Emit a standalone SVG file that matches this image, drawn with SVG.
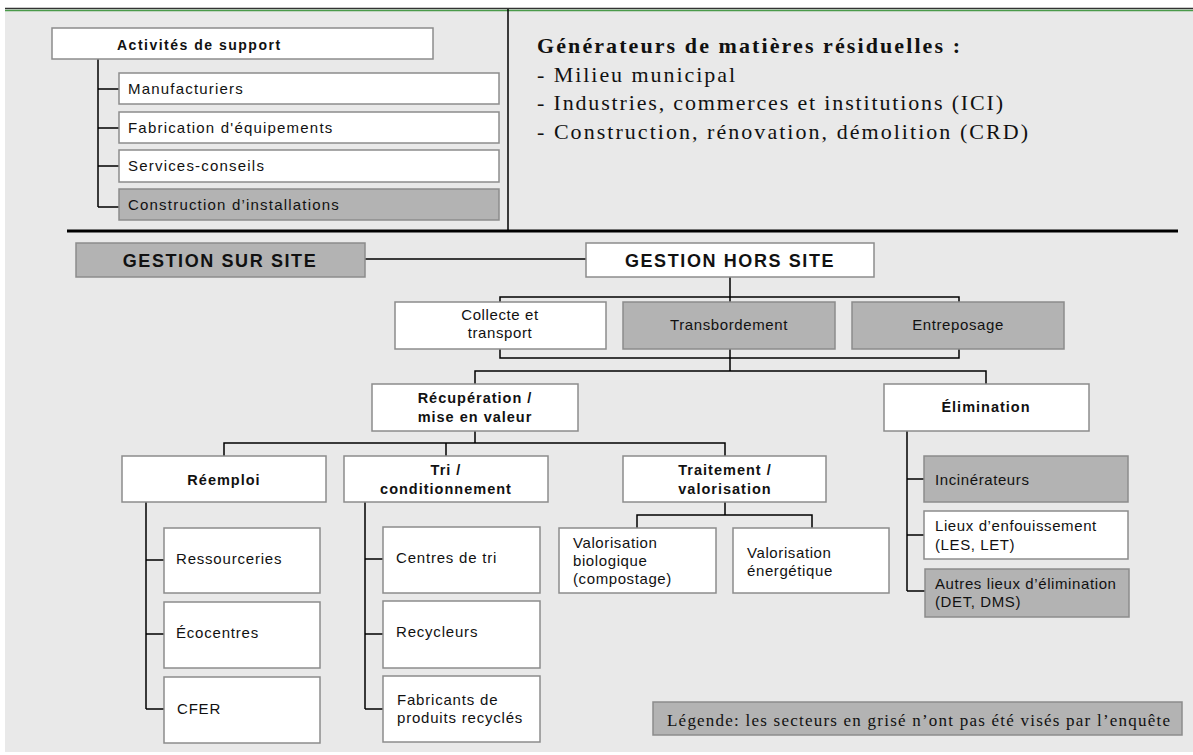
<svg xmlns="http://www.w3.org/2000/svg" width="1193" height="755" viewBox="0 0 1193 755">
<style>
.box{fill:#fff;stroke:#8c8c8c;stroke-width:1.5}
.gray{fill:#b3b3b3}
.b{font-family:"Liberation Sans",Arial,sans-serif;font-weight:bold;font-size:14.5px;letter-spacing:1px;fill:#111}
.bc{text-anchor:middle}
.r{font-family:"Liberation Sans",Arial,sans-serif;font-size:15px;letter-spacing:0.8px;fill:#111}
.m{letter-spacing:0.6px}
.big{font-size:18px;letter-spacing:1.6px}
.s{font-family:"Liberation Serif","Times New Roman",serif;font-size:22px;fill:#111}
.conn{fill:none;stroke:#000;stroke-width:1.5}
</style>
<rect x="0" y="0" width="1193" height="755" fill="#fff"/>
<rect x="5" y="10" width="1188" height="742" fill="#e9e9e9"/>
<line x1="5" y1="8.5" x2="1193" y2="8.5" stroke="#333" stroke-width="1.5"/>
<line x1="5" y1="10.5" x2="1193" y2="10.5" stroke="#4a9a4a" stroke-width="1.5"/>
<line x1="508" y1="9" x2="508" y2="231" stroke="#000" stroke-width="1.5"/>
<line x1="67" y1="231" x2="1178" y2="231" stroke="#000" stroke-width="3"/>

<g id="connectors" class="conn">
<path d="M98 59V207M98 89H119M98 128H119M98 166H119M98 207H119"/>
<path d="M365 259H586"/>
<path d="M730 277V302M500 302V297H959V302"/>
<path d="M500 349V358H959V349M730 349V371M475 384V371H986V384"/>
<path d="M475 431V443M224 456V443H725V456M446 443V456"/>
<path d="M725 502V515M637 528V515H812V528"/>
<path d="M146 502V709M146 560H164M146 634H164M146 709H164"/>
<path d="M365 502V709M365 559H383M365 634H383M365 709H383"/>
<path d="M907 431V591M907 479H924M907 535H924M907 591H925"/>
</g>

<g id="activites"><rect class="box" x="52" y="28" width="381" height="31"/><text class="b" x="117" y="50" style="font-size:14px;letter-spacing:1.5px">Activités de support</text></g>
<g id="manufacturiers"><rect class="box" x="119" y="73" width="380" height="31"/><text class="r" x="128" y="94" style="letter-spacing:1.2px">Manufacturiers</text></g>
<g id="fabrication"><rect class="box" x="119" y="112" width="380" height="31"/><text class="r" x="128" y="133" style="letter-spacing:1.2px">Fabrication d'équipements</text></g>
<g id="services"><rect class="box" x="119" y="150" width="380" height="32"/><text class="r" x="128" y="171" style="letter-spacing:1.2px">Services-conseils</text></g>
<g id="construction"><rect class="box gray" x="119" y="189" width="380" height="31"/><text class="r" x="128" y="210" style="letter-spacing:1.2px">Construction d’installations</text></g>

<g id="generateurs">
<text class="s" x="537" y="53" font-weight="bold" textLength="423" lengthAdjust="spacing">Générateurs de matières résiduelles :</text>
<text class="s" x="537" y="82" textLength="198" lengthAdjust="spacing">- Milieu municipal</text>
<text class="s" x="537" y="110" textLength="466" lengthAdjust="spacing">- Industries, commerces et institutions (ICI)</text>
<text class="s" x="537" y="139" textLength="491" lengthAdjust="spacing">- Construction, rénovation, démolition (CRD)</text>
</g>

<g id="sur-site"><rect class="box gray" x="76" y="243" width="289" height="34"/><text class="b bc big" x="220" y="267">GESTION SUR SITE</text></g>
<g id="hors-site"><rect class="box" x="586" y="243" width="288" height="34"/><text class="b bc big" x="730" y="267">GESTION HORS SITE</text></g>

<g id="collecte"><rect class="box" x="395" y="302" width="211" height="47"/><text class="r bc m" x="500" y="320">Collecte et</text><text class="r bc m" x="500" y="338">transport</text></g>
<g id="transbordement"><rect class="box gray" x="623" y="302" width="212" height="47"/><text class="r bc m" x="729" y="330">Transbordement</text></g>
<g id="entreposage"><rect class="box gray" x="852" y="302" width="212" height="47"/><text class="r bc m" x="958" y="330">Entreposage</text></g>

<g id="recuperation"><rect class="box" x="372" y="384" width="206" height="47"/><text class="b bc" x="475" y="403">Récupération /</text><text class="b bc" x="475" y="422">mise en valeur</text></g>
<g id="elimination"><rect class="box" x="884" y="384" width="205" height="47"/><text class="b bc" x="986" y="412">Élimination</text></g>

<g id="reemploi"><rect class="box" x="122" y="456" width="204" height="46"/><text class="b bc" x="224" y="485">Réemploi</text></g>
<g id="tri"><rect class="box" x="344" y="456" width="204" height="46"/><text class="b bc" x="446" y="475">Tri /</text><text class="b bc" x="446" y="494">conditionnement</text></g>
<g id="traitement"><rect class="box" x="623" y="456" width="203" height="46"/><text class="b bc" x="725" y="475">Traitement /</text><text class="b bc" x="725" y="494">valorisation</text></g>

<g id="ressourceries"><rect class="box" x="164" y="528" width="156" height="65"/><text class="r" x="176" y="564">Ressourceries</text></g>
<g id="ecocentres"><rect class="box" x="164" y="602" width="156" height="66"/><text class="r" x="176" y="638">Écocentres</text></g>
<g id="cfer"><rect class="box" x="164" y="677" width="156" height="66"/><text class="r" x="177" y="714">CFER</text></g>

<g id="centres-tri"><rect class="box" x="383" y="527" width="157" height="66"/><text class="r" x="396" y="563">Centres de tri</text></g>
<g id="recycleurs"><rect class="box" x="383" y="601" width="157" height="67"/><text class="r" x="396" y="637">Recycleurs</text></g>
<g id="fabricants"><rect class="box" x="383" y="676" width="157" height="66"/><text class="r" x="397" y="705">Fabricants de</text><text class="r" x="397" y="723">produits recyclés</text></g>

<g id="val-bio"><rect class="box" x="559" y="528" width="157" height="65"/><text class="r m" x="573" y="548">Valorisation</text><text class="r m" x="573" y="566">biologique</text><text class="r m" x="573" y="584">(compostage)</text></g>
<g id="val-energ"><rect class="box" x="733" y="528" width="156" height="65"/><text class="r m" x="747" y="558">Valorisation</text><text class="r m" x="747" y="576">énergétique</text></g>

<g id="incinerateurs"><rect class="box gray" x="924" y="456" width="204" height="46"/><text class="r m" x="935" y="485">Incinérateurs</text></g>
<g id="enfouissement"><rect class="box" x="924" y="511" width="204" height="48"/><text class="r m" x="935" y="531">Lieux d’enfouissement</text><text class="r m" x="935" y="550">(LES, LET)</text></g>
<g id="autres"><rect class="box gray" x="925" y="569" width="204" height="48"/><text class="r m" x="935" y="589">Autres lieux d’élimination</text><text class="r m" x="935" y="607">(DET, DMS)</text></g>

<g id="legende"><rect class="box gray" x="653" y="702" width="529" height="33"/><text class="s" x="667" y="726" style="font-size:17px" textLength="503" lengthAdjust="spacing">Légende: les secteurs en grisé n’ont pas été visés par l’enquête</text></g>
</svg>
